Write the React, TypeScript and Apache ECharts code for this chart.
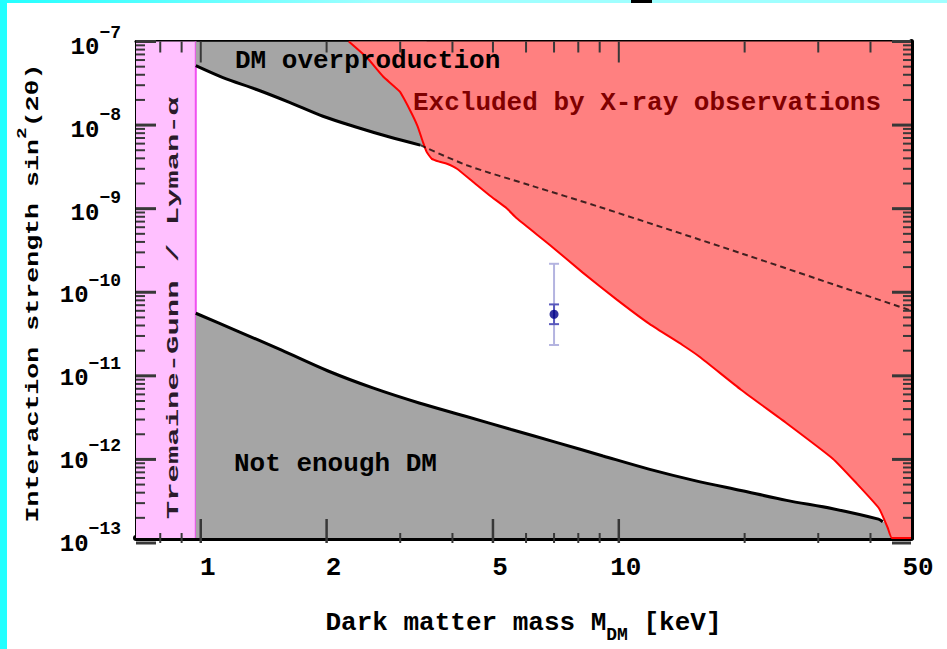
import React, { useEffect, useRef } from 'react';
import * as echarts from 'echarts';

// ---- data ----
const bandMass = [0.7, 0.973];

const massUpperSolid = [0.973, 1.13, 1.36, 1.63, 1.96, 2.36, 2.83, 3.35];
const sinUpperSolid = [5.1e-8, 3.66e-8, 2.63e-8, 1.84e-8, 1.25e-8, 9.2e-9, 7.0e-9, 5.6e-9];
const upperFillEnd = [3.47, 5.2e-9];

const massUpperDashed = [3.35, 4.33, 6.2, 9.0, 20, 30, 50];
const sinUpperDashed = [5.6e-9, 3.2e-9, 1.8e-9, 1.0e-9, 2.67e-10, 1.34e-10, 5.6e-11];

const massLower = [0.973, 1.212, 1.561, 2.01, 2.59, 3.33, 4.3, 5.53, 7.12, 9.17, 11.8, 15.2, 19.6, 25.2, 32.5, 41.8, 42.8];
const sinLower = [5.2e-11, 3.23e-11, 1.86e-11, 1.05e-11, 6.46e-12, 4.28e-12, 2.96e-12, 2.05e-12, 1.42e-12, 9.8e-13, 6.8e-13, 4.94e-13, 3.75e-13, 2.85e-13, 2.26e-13, 1.69e-13, 1.57e-13];
const lowerFillEnd = [45.2, 1.48e-13];

const massXray = [2.26, 2.5, 2.73, 2.99, 3.16, 3.3, 3.4, 3.47, 3.57, 3.73, 3.88, 4.1, 4.47, 4.91, 5.4, 5.7, 6.84, 8.2, 9.89, 11.86, 14.2, 15.6, 19.6, 25.2, 32.5, 36.9, 41.9, 44.0, 45.0, 50];
const sinXray = [1e-7, 6.35e-8, 3.77e-8, 2.49e-8, 1.51e-8, 9.5e-9, 6.1e-9, 4.64e-9, 3.82e-9, 3.52e-9, 3.33e-9, 2.9e-9, 2.03e-9, 1.38e-9, 9.6e-10, 7.3e-10, 3.48e-10, 1.61e-10, 7.6e-11, 3.84e-11, 2.15e-11, 1.55e-11, 6.2e-12, 2.44e-12, 9.1e-13, 4.68e-13, 2.29e-13, 1.32e-13, 1e-13, 1e-13];

const pointMass = 7.0;
const pointSin = 5.06e-11;
const errOuter = [2.15e-11, 2.06e-10];
const errInner = [3.84e-11, 6.65e-11];

const xRange = [0.7, 50];
const yRange = [1e-13, 1e-7];
const xMajorBottom = [1, 2, 5, 10];
const xTickLabels = [1, 2, 5, 10, 50];
const xMinorBottom = [0.8, 0.9, 3, 4, 6, 7, 8, 9, 20, 30, 40];
const xMajorTop = [1, 10];
const xMinorTop = [0.8, 0.9, 2, 3, 4, 5, 6, 7, 8, 9, 20, 30, 40];
const yDecades = [-13, -12, -11, -10, -9, -8, -7];
const yMinorFactors = [2, 3, 4, 5, 6, 7, 8, 9];

// ---- helpers ----
const lx = (v: number) => Math.log10(v);
const pairs = (ms: number[], ss: number[]) => ms.map((m, i) => [lx(m), lx(ss[i])]);

const X_MIN = lx(xRange[0]);
const X_MAX = lx(xRange[1]);
const Y_MIN = lx(yRange[0]);
const Y_MAX = lx(yRange[1]);
const GRID = { left: 136, top: 41.5, width: 775, height: 501.5 };
const FONT = '"Liberation Mono", "DejaVu Sans Mono", monospace';
const TICK = '#383838';

const yMinorLogs: number[] = [];
yDecades.forEach((d) => {
  if (d < Y_MAX) yMinorFactors.forEach((k) => yMinorLogs.push(d + lx(k)));
});

// the same linear map the value axes use (axis min/max -> grid edges)
const toPx = (xv: number) => GRID.left + ((xv - X_MIN) / (X_MAX - X_MIN)) * GRID.width;
const toPy = (yv: number) => GRID.top + ((Y_MAX - yv) / (Y_MAX - Y_MIN)) * GRID.height;

// frame tick marks as small rectangles
function tickRects(): any[] {
  const out: any[] = [];
  const bottom = GRID.top + GRID.height;
  const top = GRID.top;
  const left = GRID.left;
  const right = GRID.left + GRID.width;
  const vt = (xv: number, edge: number, dir: number, len: number, w: number) => {
    const px = toPx(xv);
    out.push({
      type: 'rect',
      z: 60,
      silent: true,
      shape: { x: px - w / 2, y: dir < 0 ? edge - len : edge, width: w, height: len },
      style: { fill: TICK },
    });
  };
  const ht = (yv: number, edge: number, dir: number, len: number, w: number) => {
    const py = toPy(yv);
    out.push({
      type: 'rect',
      z: 60,
      silent: true,
      shape: { x: dir > 0 ? edge : edge - len, y: py - w / 2, width: len, height: w },
      style: { fill: TICK },
    });
  };
  xMajorBottom.forEach((m) => vt(lx(m), bottom, -1, 24, 2.5));
  xMinorBottom.forEach((m) => vt(lx(m), bottom, -1, 10, 2));
  xMajorTop.forEach((m) => vt(lx(m), top, 1, 21, 2));
  xMinorTop.forEach((m) => vt(lx(m), top, 1, 11, 2));
  yDecades.forEach((d) => {
    ht(d, left, 1, 20, 3);
    ht(d, right, -1, 19, 3);
  });
  yMinorLogs.forEach((v) => {
    ht(v, left, 1, 9, 2);
    ht(v, right, -1, 8, 2);
  });
  return out;
}

const xBase = (extra: any) => ({
  type: 'value',
  min: X_MIN,
  max: X_MAX,
  splitLine: { show: false },
  axisTick: { show: false },
  ...extra,
});
const yBase = (extra: any) => ({
  type: 'value',
  min: Y_MIN,
  max: Y_MAX,
  splitLine: { show: false },
  axisTick: { show: false },
  ...extra,
});

function buildOption(): any {
  return {
    animation: false,
    backgroundColor: '#ffffff',
    grid: { ...GRID, containLabel: false },
    xAxis: [
      xBase({
        position: 'bottom',
        axisLine: { show: true, onZero: false, lineStyle: { color: '#000', width: 6 } },
        axisLabel: {
          show: true,
          customValues: xTickLabels.map(lx),
          formatter: (v: number) => String(Math.round(Math.pow(10, v) * 100) / 100),
          margin: 17,
          padding: [0, 0, 0, 14],
          fontSize: 26,
          fontFamily: FONT,
          fontWeight: 'bold',
          color: '#000',
        },
        name: '{a|Dark matter mass M}{s|DM}{a| [keV]}',
        nameLocation: 'middle',
        nameGap: 72,
        nameTextStyle: {
          fontFamily: FONT,
          rich: {
            a: { fontSize: 26, fontFamily: FONT, fontWeight: 'bold', color: '#000', verticalAlign: 'top' },
            s: { fontSize: 18, fontFamily: FONT, fontWeight: 'bold', color: '#000', verticalAlign: 'top', padding: [16, 0, 0, 0] },
          },
        },
      }),
      xBase({
        position: 'top',
        axisLine: { show: true, onZero: false, lineStyle: { color: '#000', width: 3 } },
        axisLabel: { show: false },
      }),
    ],
    yAxis: [
      yBase({
        position: 'left',
        interval: 1,
        axisLine: { show: true, onZero: false, lineStyle: { color: '#000', width: 3 } },
        axisLabel: {
          show: true,
          margin: 15,
          formatter: (v: number) => `{b|10}{s|\u2212${Math.round(-v)}}`,
          rich: {
            b: { fontSize: 24, fontFamily: FONT, fontWeight: 'bold', color: '#000', verticalAlign: 'bottom' },
            s: { fontSize: 18, fontFamily: FONT, fontWeight: 'bold', color: '#000', verticalAlign: 'top', padding: [0, 0, 18, 0] },
          },
        },
      }),
      yBase({
        position: 'right',
        interval: 1,
        axisLine: { show: true, onZero: false, lineStyle: { color: '#000', width: 5 } },
        axisLabel: { show: false },
      }),
    ],
    series: [
      {
        // Tremaine-Gunn / Lyman-alpha band
        type: 'custom',
        z: 1,
        silent: true,
        data: [[lx(bandMass[0]), Y_MAX, lx(bandMass[1]), Y_MIN]],
        encode: { x: [0, 2], y: [1, 3] },
        renderItem: (params: any, api: any) => {
          const p0 = api.coord([api.value(0), api.value(1)]);
          const p1 = api.coord([api.value(2), api.value(3)]);
          return {
            type: 'group',
            children: [
              { type: 'rect', shape: { x: p0[0], y: p0[1], width: p1[0] - p0[0], height: p1[1] - p0[1] }, style: { fill: '#ffc0ff' } },
              { type: 'line', shape: { x1: p1[0], y1: p0[1], x2: p1[0], y2: p1[1] }, style: { stroke: '#f050f0', lineWidth: 2 } },
            ],
          };
        },
      },
      {
        // DM overproduction fill
        type: 'line',
        z: 2,
        silent: true,
        symbol: 'none',
        smooth: 0.3,
        data: [...pairs(massUpperSolid, sinUpperSolid), [lx(upperFillEnd[0]), lx(upperFillEnd[1])]],
        lineStyle: { width: 0 },
        areaStyle: { color: '#a5a5a5', opacity: 1, origin: 'end' },
      },
      {
        // Not enough DM fill
        type: 'line',
        z: 2,
        silent: true,
        symbol: 'none',
        smooth: 0.3,
        data: [...pairs(massLower, sinLower), [lx(lowerFillEnd[0]), lx(lowerFillEnd[1])]],
        lineStyle: { width: 0 },
        areaStyle: { color: '#a5a5a5', opacity: 1, origin: 'start' },
      },
      {
        // X-ray exclusion
        type: 'line',
        z: 3,
        silent: true,
        symbol: 'none',
        smooth: 0.15,
        data: pairs(massXray, sinXray),
        lineStyle: { color: '#ff0000', width: 2 },
        areaStyle: { color: '#ff8080', opacity: 1, origin: 'end' },
      },
      {
        type: 'line',
        z: 4,
        silent: true,
        symbol: 'none',
        smooth: 0.3,
        data: pairs(massUpperSolid, sinUpperSolid),
        lineStyle: { color: '#000', width: 3 },
      },
      {
        type: 'line',
        z: 4,
        silent: true,
        symbol: 'none',
        smooth: 0.3,
        data: pairs(massUpperDashed, sinUpperDashed),
        lineStyle: { color: 'rgba(0,0,0,0.75)', width: 2, type: [6, 4] },
      },
      {
        type: 'line',
        z: 4,
        silent: true,
        symbol: 'none',
        smooth: 0.3,
        data: pairs(massLower, sinLower),
        lineStyle: { color: '#000', width: 3 },
      },
      {
        // error bars
        type: 'custom',
        z: 6,
        silent: true,
        data: [
          [lx(pointMass), lx(errOuter[0]), lx(errOuter[1])],
          [lx(pointMass), lx(errInner[0]), lx(errInner[1])],
        ],
        encode: { x: 0, y: [1, 2] },
        renderItem: (params: any, api: any) => {
          const x = api.value(0);
          const lo = api.coord([x, api.value(1)]);
          const hi = api.coord([x, api.value(2)]);
          const col = params.dataIndex === 0 ? '#b4b4e0' : '#5858bc';
          const w = 5;
          const st = { stroke: col, lineWidth: 2 };
          return {
            type: 'group',
            children: [
              { type: 'line', shape: { x1: lo[0], y1: lo[1], x2: hi[0], y2: hi[1] }, style: st },
              { type: 'line', shape: { x1: lo[0] - w, y1: lo[1], x2: lo[0] + w, y2: lo[1] }, style: st },
              { type: 'line', shape: { x1: hi[0] - w, y1: hi[1], x2: hi[0] + w, y2: hi[1] }, style: st },
            ],
          };
        },
      },
      {
        type: 'scatter',
        z: 7,
        silent: true,
        symbol: 'circle',
        symbolSize: 9,
        itemStyle: { color: '#000088' },
        data: [[lx(pointMass), lx(pointSin)]],
      },
    ],
    graphic: {
      elements: [
        { type: 'rect', z: 100, silent: true, shape: { x: 0, y: 0, width: 7, height: 649 }, style: { fill: '#22ffff' } },
        {
          type: 'rect',
          z: 100,
          silent: true,
          shape: { x: 0, y: 0, width: 947, height: 3 },
          style: {
            fill: new echarts.graphic.LinearGradient(0, 0, 1, 0, [
              { offset: 0, color: '#22ffff' },
              { offset: 0.4, color: '#a0ffff' },
              { offset: 1, color: '#a0ffff' },
            ]),
          },
        },
        { type: 'rect', z: 101, silent: true, shape: { x: 631, y: 0, width: 21, height: 3 }, style: { fill: '#000' } },
        ...tickRects(),
        {
          type: 'text',
          z: 50,
          silent: true,
          x: 235,
          y: 61,
          style: { text: 'DM overproduction', fill: '#000', fontSize: 26, fontFamily: FONT, fontWeight: 'bold', align: 'left', verticalAlign: 'middle' },
        },
        {
          type: 'text',
          z: 50,
          silent: true,
          x: 413,
          y: 103,
          style: { text: 'Excluded by X-ray observations', fill: '#800000', fontSize: 26, fontFamily: FONT, fontWeight: 'bold', align: 'left', verticalAlign: 'middle' },
        },
        {
          type: 'text',
          z: 50,
          silent: true,
          x: 234,
          y: 464,
          style: { text: 'Not enough DM', fill: '#000', fontSize: 26, fontFamily: FONT, fontWeight: 'bold', align: 'left', verticalAlign: 'middle' },
        },
        {
          type: 'text',
          z: 50,
          silent: true,
          x: 173,
          y: 308,
          rotation: Math.PI / 2,
          scaleX: 1.8,
          style: { text: 'Tremaine-Gunn / Lyman-\u03b1', fill: '#2a1a2a', fontSize: 17, fontFamily: FONT, fontWeight: 'bold', align: 'center', verticalAlign: 'middle' },
        },
        {
          type: 'text',
          z: 50,
          silent: true,
          x: 29,
          y: 293,
          rotation: Math.PI / 2,
          scaleX: 1.48,
          style: {
            text: '{a|Interaction strength sin}{s|2}{a|(2\u03b8)}',
            align: 'center',
            verticalAlign: 'middle',
            rich: {
              a: { fontSize: 18, fontFamily: FONT, fontWeight: 'bold', fill: '#000', verticalAlign: 'bottom' },
              s: { fontSize: 13, fontFamily: FONT, fontWeight: 'bold', fill: '#000', verticalAlign: 'top', padding: [0, 0, 14, 0] },
            },
          },
        },
      ],
    },
  };
}

export default function App() {
  const ref = useRef<HTMLDivElement>(null);
  useEffect(() => {
    if (!ref.current) return;
    const chart = echarts.init(ref.current, null, { renderer: 'svg' });
    chart.setOption(buildOption());
    return () => {
      chart.dispose();
    };
  }, []);
  return (
    <div
      ref={ref}
      style={{ position: 'fixed', left: 0, top: 0, width: 947, height: 649, background: '#ffffff' }}
    />
  );
}
